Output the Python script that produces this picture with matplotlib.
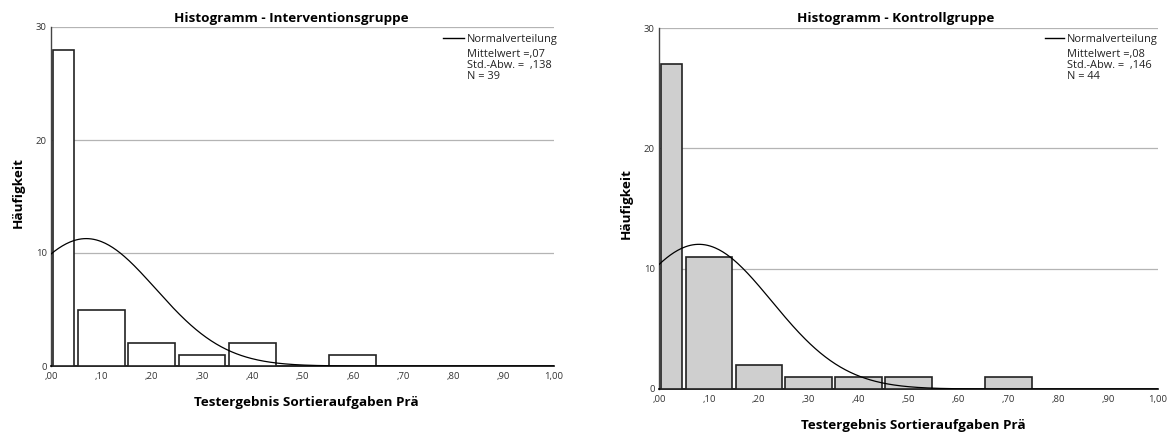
import numpy as np
import matplotlib
matplotlib.use("Agg")
import matplotlib.pyplot as plt

plt.rcParams['font.family'] = ['Open Sans', 'Noto Sans', 'DejaVu Sans']

# ---- data ----
titles = ["Histogramm - Interventionsgruppe", "Histogramm - Kontrollgruppe"]
bin_left = [0.00, 0.05, 0.15, 0.25, 0.35, 0.45, 0.55, 0.65, 0.75, 0.85]
bin_right = [0.05, 0.15, 0.25, 0.35, 0.45, 0.55, 0.65, 0.75, 0.85, 0.95]
counts_int = [28, 5, 2, 1, 2, 0, 1, 0, 0, 0]
counts_ctl = [27, 11, 2, 1, 1, 1, 0, 1, 0, 0]
means = [0.07, 0.08]
sds = [0.138, 0.146]
ns = [39, 44]
mean_labels = [",07", ",08"]
sd_labels = [",138", ",146"]
xticks = [0.0, 0.1, 0.2, 0.3, 0.4, 0.5, 0.6, 0.7, 0.8, 0.9, 1.0]
xticklabels = [",00", ",10", ",20", ",30", ",40", ",50", ",60", ",70", ",80", ",90", "1,00"]
yticks = [0, 10, 20, 30]
fills = ["white", "#cfcfcf"]

W, H = 1172, 434
fig = plt.figure(figsize=(W / 100, H / 100), dpi=100)

def px(x0, y_top, x1, y_bot):
    return [x0 / W, 1 - y_bot / H, (x1 - x0) / W, (y_bot - y_top) / H]

axes_px = [(51, 27, 554, 366), (659, 28, 1158, 389)]
counts_all = [counts_int, counts_ctl]
# line x0, line x1, line y, text x, baselines (Normalverteilung, Mittelwert, Std, N)
legend_px = [(443, 464, 38.3, 467, [42.3, 56.7, 67.7, 79]),
             (1045, 1064, 38.3, 1067, [42.3, 56.7, 67.7, 79])]
title_cx = [291.5, 895.7]
title_base = [22, 22]
ylabel_pos = [(18, 193), (626, 204)]
xlabel_pos = [(306, 406), (913.5, 429)]

for i in range(2):
    ax = fig.add_axes(px(*axes_px[i]))
    counts = counts_all[i]
    gap = 0.0035
    for l, r, c in zip(bin_left, bin_right, counts):
        if c > 0:
            ax.bar(l + gap, c, width=(r - l) - 2 * gap, align='edge',
                   facecolor=fills[i], edgecolor='#222222', linewidth=1.2, zorder=3)
    xs = np.linspace(0, 1, 400)
    bw = 0.1
    ys = ns[i] * bw / (sds[i] * np.sqrt(2 * np.pi)) * np.exp(-0.5 * ((xs - means[i]) / sds[i]) ** 2)
    ax.plot(xs, ys, color='black', linewidth=0.9, zorder=4)
    ax.set_xlim(0, 1)
    ax.set_ylim(0, 30)
    ax.set_xticks(xticks)
    ax.set_xticklabels(xticklabels)
    ax.set_yticks(yticks)
    ax.tick_params(axis='both', length=0, labelsize=6.8, colors='#333333', pad=4)
    ax.tick_params(axis='y', pad=3)
    for y in [10, 20, 30]:
        ax.axhline(y, color='#b4b4b4', linewidth=0.9, zorder=1)
    ax.spines['top'].set_visible(False)
    ax.spines['right'].set_visible(False)
    ax.spines['left'].set_color('#444444')
    ax.spines['bottom'].set_color('black')
    ax.spines['left'].set_linewidth(1.0)
    ax.spines['bottom'].set_linewidth(1.2)
    ax.patch.set_visible(False)

    fig.text(title_cx[i] / W, 1 - title_base[i] / H, titles[i], ha='center', va='baseline',
             fontsize=9.7, fontweight='bold')
    yx, yy = ylabel_pos[i]
    fig.text(yx / W, 1 - yy / H, "Häufigkeit", rotation=90,
             ha='center', va='center', fontsize=9.7, fontweight='bold')
    xx, xy = xlabel_pos[i]
    fig.text(xx / W, 1 - xy / H, "Testergebnis Sortieraufgaben Prä",
             ha='center', va='baseline', fontsize=9.7, fontweight='bold')

    lx0, lx1, ly, tx, sy = legend_px[i]
    fig.add_artist(plt.Line2D([lx0 / W, lx1 / W], [1 - ly / H, 1 - ly / H],
                              color='black', linewidth=1.0))
    lines = ["Normalverteilung", "Mittelwert =" + mean_labels[i],
             "Std.-Abw. =  " + sd_labels[i], "N = " + str(ns[i])]
    for s, yb in zip(lines, sy):
        fig.text(tx / W, 1 - yb / H, s, ha='left', va='baseline', fontsize=7.9,
                 color='#222222')

fig.savefig("out.png", dpi=100)
